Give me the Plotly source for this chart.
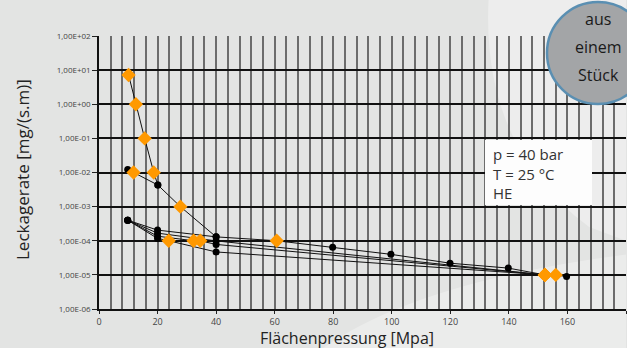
import plotly.graph_objects as go

# ---- data ----
O = "#ff9900"
B = "#000000"

top_x = [10.1, 12.6, 15.6, 18.7, 20.1, 27.8, 40, 60.7, 79.8, 99.7, 119.9, 139.8, 152.3, 156, 159.7]
top_y = [7.2, 1.0, 0.1, 0.01, 4.3e-3, 1e-3, 1.3e-4, 1e-4, 6.5e-5, 4e-5, 2.2e-5, 1.58e-5, 1e-5, 1e-5, 8.9e-6]
top_c = ["O", "O", "O", "O", "B", "O", "B", "O", "B", "B", "B", "B", "O", "O", "B"]

b_x = [9.8, 11.8, 20.1]
b_y = [1.23e-2, 1e-2, 4.3e-3]
b_c = ["B", "O", "B"]

c1_x = [9.8, 20, 40]
c1_y = [4e-4, 2.05e-4, 1.3e-4]
c1_c = ["B", "B", "B"]

c2_x = [9.8, 20, 40, 152.3]
c2_y = [4e-4, 1.67e-4, 9.9e-5, 1e-5]
c2_c = ["B", "B", "B", "O"]

c3_x = [9.8, 20, 32.3, 34.6, 40, 152.3]
c3_y = [4e-4, 1.36e-4, 1e-4, 1e-4, 7.8e-5, 1e-5]
c3_c = ["B", "B", "O", "O", "B", "O"]

c4_x = [9.8, 20, 23.8, 40, 152.3]
c4_y = [4e-4, 1.17e-4, 1e-4, 4.7e-5, 1e-5]
c4_c = ["B", "B", "O", "B", "O"]

y_tickvals = [1e-6, 1e-5, 1e-4, 1e-3, 1e-2, 1e-1, 1e0, 1e1, 1e2]
y_ticktext = ["1,00E-06", "1,00E-05", "1,00E-04", "1,00E-03", "1,00E-02",
              "1,00E-01", "1,00E+00", "1,00E+01", "1,00E+02"]
x_tickvals = [0, 20, 40, 60, 80, 100, 120, 140, 160, 180]

series = [(c4_x, c4_y, c4_c), (c3_x, c3_y, c3_c), (c2_x, c2_y, c2_c),
          (c1_x, c1_y, c1_c), (b_x, b_y, b_c), (top_x, top_y, top_c)]

fig = go.Figure()
for xs, ys, cs in series:
    fig.add_trace(go.Scatter(
        x=xs, y=ys, mode="lines",
        line=dict(color="#111111", width=1),
        showlegend=False, hoverinfo="skip"))
for key, sym, size in [("B", "circle", 7), ("O", "diamond", 11)]:
    for xs, ys, cs in series:
        px = [x for x, c in zip(xs, cs) if c == key]
        py = [y for y, c in zip(ys, cs) if c == key]
        fig.add_trace(go.Scatter(
            x=px, y=py, mode="markers",
            marker=dict(symbol=sym, size=size, color=O if key == "O" else B,
                        line=dict(width=0)),
            showlegend=False, hoverinfo="skip"))

L, T, PW, PH = 99, 36, 527, 273


def px_x(p):
    return (p - L) / PW


def px_y(p):
    return (T + PH - p) / PH


badge_lines = [("aus", 19), ("einem", 47), ("Stück", 75)]

annotations = [
    dict(text="Leckagerate [mg/(s.m)]", xref="paper", yref="paper",
         x=px_x(22), y=px_y(170), textangle=-90, showarrow=False,
         font=dict(size=17, color="#222222", family="Open Sans"),
         xanchor="center", yanchor="middle"),
    dict(text="Flächenpressung [Mpa]", xref="paper", yref="paper",
         x=px_x(347), y=px_y(338), showarrow=False,
         font=dict(size=16, color="#222222", family="Open Sans"),
         xanchor="center", yanchor="middle"),
    dict(text="p = 40 bar<br>T = 25 °C<br>HE", xref="paper", yref="paper",
         x=px_x(491), y=px_y(173), showarrow=False,
         align="left", xanchor="left", yanchor="middle",
         font=dict(size=15, color="#333333", family="Open Sans")),
]
for txt, yy in badge_lines:
    annotations.append(dict(
        text=txt, xref="paper", yref="paper", x=px_x(598), y=px_y(yy),
        showarrow=False, xanchor="center", yanchor="middle",
        font=dict(size=16, color="#1a1a1a", family="Open Sans")))

fig.update_layout(
    width=627, height=348,
    margin=dict(l=L, r=627 - L - PW, t=T, b=348 - T - PH, autoexpand=False),
    paper_bgcolor="#e3e4e3",
    plot_bgcolor="rgba(0,0,0,0)",
    font=dict(family="Open Sans", color="#333333"),
    xaxis=dict(
        range=[0, 180], tickvals=x_tickvals, automargin=False,
        showgrid=True, gridcolor="#6c6c6c", gridwidth=1.6,
        minor=dict(dtick=4, showgrid=True, gridcolor="#6c6c6c", gridwidth=1.6,
                   ticks=""),
        ticks="outside", ticklen=3, tickcolor="#222222",
        showline=True, linecolor="#111111", linewidth=2,
        tickfont=dict(size=9, color="#444444", family="Open Sans"),
        zeroline=False,
    ),
    yaxis=dict(
        type="log", range=[-6, 2], automargin=False,
        tickvals=y_tickvals, ticktext=y_ticktext,
        showgrid=True, gridcolor="#111111", gridwidth=1.5,
        ticks="outside", ticklen=5, tickcolor="#222222",
        showline=True, linecolor="#111111", linewidth=1.5,
        tickfont=dict(size=8, color="#444444", family="Open Sans"),
        zeroline=False,
    ),
    shapes=[
        dict(type="path", xref="paper", yref="paper", layer="below",
             path="M 0.74 1.16 Q 0.72 0.6 0.93 0.3 L 1.0 0.25 L 1.0 1.16 Z",
             fillcolor="rgba(255,255,255,0.35)", line=dict(width=0)),
        dict(type="path", xref="paper", yref="paper", layer="below",
             path="M 0.42 -0.15 Q 0.6 0.1 1.0 0.2 L 1.0 -0.15 Z",
             fillcolor="rgba(255,255,255,0.3)", line=dict(width=0)),
        dict(type="rect", xref="paper", yref="paper",
             x0=px_x(485), x1=px_x(592), y0=px_y(205), y1=px_y(140),
             fillcolor="#fdfdfd", line=dict(width=0), layer="above"),
        dict(type="circle", xref="paper", yref="paper",
             x0=px_x(547), x1=px_x(649), y0=px_y(104), y1=px_y(2),
             fillcolor="#a3a5a7", line=dict(color="#5a8fb2", width=2.5),
             layer="above"),
    ],
    annotations=annotations,
)

fig.write_html("out.html", config={"displayModeBar": False},
               post_script="document.body.style.margin='0';document.body.style.padding='0';")
